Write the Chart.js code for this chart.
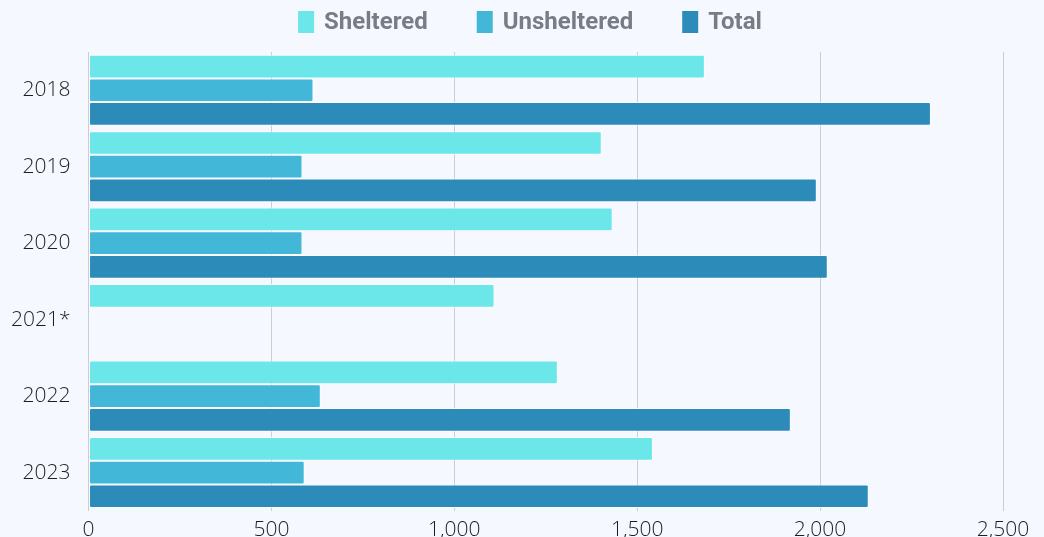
<!DOCTYPE html>
<html>
<head>
<meta charset="utf-8">
<script src="https://cdn.jsdelivr.net/npm/chart.js@4.4.1/dist/chart.umd.min.js"></script>
<style>
  html, body { margin: 0; padding: 0; background: #f5f8fe; overflow: hidden; }
  #wrap { width: 1044px; height: 537px; overflow: hidden; }
</style>
</head>
<body>
<div id="wrap"><canvas id="myChart" width="1044" height="550"></canvas></div>
<script>
// Dados do gráfico
const years = ['2018', '2019', '2020', '2021*', '2022', '2023'];
const sheltered = [1685, 1403, 1433, 1110, 1283, 1543];
const unsheltered = [615, 585, 585, null, 635, 591];
const total = [2303, 1991, 2021, null, 1920, 2133];
const xTicks = [0, 500, 1000, 1500, 2000, 2500];

const seriesNames = ['Sheltered', 'Unsheltered', 'Total'];
const seriesColors = ['#6be6e9', '#43b7d7', '#2d8bba'];

// legenda desenhada no topo do canvas
const topLegend = {
    id: 'topLegend',
    afterDraw(chart) {
        const ctx = chart.ctx;
        ctx.save();
        ctx.font = 'bold 24px Roboto';
        ctx.textBaseline = 'middle';
        const boxW = 16, boxH = 22, gapText = 10, gapItem = 49;
        const widths = seriesNames.map(n => boxW + gapText + ctx.measureText(n).width);
        const full = widths.reduce((a, b) => a + b, 0) + gapItem * (widths.length - 1);
        let x = chart.width / 2 + 8 - full / 2;
        const y = 22;
        seriesNames.forEach((name, i) => {
            ctx.fillStyle = seriesColors[i];
            ctx.fillRect(x, y - boxH / 2, boxW, boxH);
            ctx.fillStyle = '#787c87';
            ctx.fillText(name, x + boxW + gapText, y + 1);
            x += widths[i] + gapItem;
        });
        ctx.restore();
    }
};

const data = {
    labels: years,
    datasets: [
        { label: seriesNames[0], data: sheltered, backgroundColor: seriesColors[0] },
        { label: seriesNames[1], data: unsheltered, backgroundColor: seriesColors[1] },
        { label: seriesNames[2], data: total, backgroundColor: seriesColors[2] }
    ].map(ds => Object.assign(ds, {
        borderColor: 'rgba(255,255,255,0.7)',
        borderWidth: 1,
        borderRadius: 2,
        borderSkipped: false,
        categoryPercentage: 0.93,
        barPercentage: 1
    }))
};

const options = {
    indexAxis: 'y',
    responsive: false,
    animation: false,
    layout: { padding: { top: 52, left: -7, right: 41, bottom: 0 } },
    plugins: {
        legend: { display: false },
        tooltip: { enabled: false }
    },
    scales: {
        x: {
            min: 0,
            max: 2500,
            afterBuildTicks: axis => { axis.ticks = xTicks.map(v => ({ value: v })); },
            grid: { color: '#c9cdd6', drawTicks: false },
            border: { display: false },
            ticks: {
                padding: 7,
                color: '#1e1e1e',
                font: { family: 'Open Sans', size: 21, weight: 300 },
                callback: v => v.toLocaleString('en-US')
            }
        },
        y: {
            grid: { display: false, drawTicks: false },
            border: { display: true, color: '#c9cdd6' },
            ticks: {
                padding: 18,
                color: '#1e1e1e',
                font: { family: 'Open Sans', size: 21, weight: 300 }
            }
        }
    }
};

const ctx = document.getElementById('myChart').getContext('2d');
const myChart = new Chart(ctx, {
    type: 'bar',
    data: data,
    options: options,
    plugins: [topLegend]
});
</script>
</body>
</html>
